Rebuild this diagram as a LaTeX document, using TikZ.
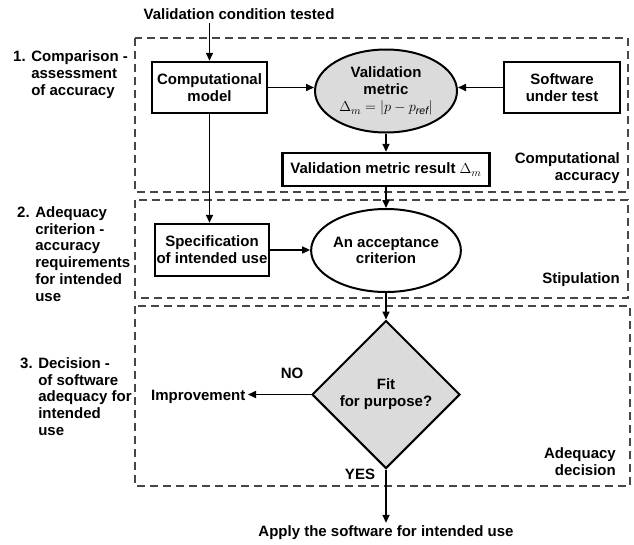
\documentclass[tikz,border=0pt]{standalone}
\usepackage{fontspec}
\setmainfont{Liberation Sans}
\usetikzlibrary{shapes.geometric,arrows.meta}

\begin{document}
\begin{tikzpicture}[x=1pt,y=-1pt,
    font=\fontsize{15}{16.8}\selectfont\bfseries,
    blk/.style={draw, line width=2.4pt, inner sep=0pt, align=center},
    oval/.style={draw, ellipse, line width=2pt, inner sep=0pt, align=center,
      minimum width=142pt, minimum height=83pt},
    zone/.style={draw=black!72, line width=1.5pt, dash pattern=on 8pt off 5pt},
    arr/.style={line width=1.6pt, -{Triangle[length=8pt,width=7pt]}},
    lbl/.style={inner sep=0pt, align=left, anchor=west},
    tag/.style={inner sep=0pt, align=right, anchor=east}]
    \useasboundingbox (0,0) rectangle (634,544);
    % the three stages
    \draw[zone] (135,38) rectangle (628,192);
    \draw[zone] (135,200) rectangle (628,298);
    \draw[zone] (135,306) rectangle (630,486);
    \node[lbl] (h1) at (13,74.5) {1. Comparison -\\\hphantom{1. }assessment\\\hphantom{1. }of accuracy};
    \node[lbl] (h2) at (17,254) {2. Adequacy\\\hphantom{2. }criterion -\\\hphantom{2. }accuracy\\\hphantom{2. }requirements\\\hphantom{2. }for intended\\\hphantom{2. }use};
    \node[lbl] (h3) at (20,396.5) {3. Decision -\\\hphantom{3. }of software\\\hphantom{3. }adequacy for\\\hphantom{3. }intended\\\hphantom{3. }use};
    \node[tag] (t1) at (620,168.5) {Computational\\accuracy};
    \node[tag] (t2) at (620,280) {Stipulation};
    \node[tag] (t3) at (616,462) {Adequacy\\decision};
    % boxes
    \node (title) at (239,14) {Validation condition tested};
    \node[blk, minimum width=115pt, minimum height=51pt] (cm) at (209.5,87.5) {Computational\\model};
    \node[oval, fill=black!14] (vm) at (386,91) {Validation\\metric\\[1pt] {\mdseries $\Delta_m = \left|p - p_{\mathit{ref}}\right|$}};
    \node[blk, minimum width=116pt, minimum height=51pt] (sut) at (562,87.5) {Software\\under test};
    \node[blk, minimum width=207pt, minimum height=33pt] (res) at (386,169.5) {Validation metric result $\Delta_m$};
    \node[blk, minimum width=114pt, minimum height=52pt] (spec) at (212,250) {Specification\\of intended use};
    \node[oval] (acc) at (386,250.5) {An acceptance\\criterion};
    \node[draw, diamond, fill=black!14, line width=2pt, minimum size=148pt,
      inner sep=0pt, align=center] (fit) at (386,394.5) {Fit\\for purpose?};
    \node[inner sep=2.5pt, anchor=east] (impr) at (248,396.5) {Improvement};
    \node[inner sep=3pt] (apply) at (386,533) {Apply the software for intended use};
    \node (no) at (292,373) {NO};
    \node (yes) at (360,474) {YES};
    % arrows
    \draw[arr] (title.south -| cm.north) -- (cm.north);
    \draw[arr] (cm.east) -- (cm.east -| vm.west);
    \draw[arr] (sut.west) -- (sut.west -| vm.east);
    \draw[arr] (vm.south) -- (res.north);
    \draw[arr] (res.south) -- (acc.north);
    \draw[arr] (cm.south) -- (cm.south |- spec.north);
    \draw[arr] (spec.east) -- (spec.east -| acc.west);
    \draw[arr] (acc.south) -- (fit.north);
    \draw[arr] (fit.west) -- (fit.west -| impr.east);
    \draw[arr] (fit.south) -- (apply.north);
\end{tikzpicture}
\end{document}
